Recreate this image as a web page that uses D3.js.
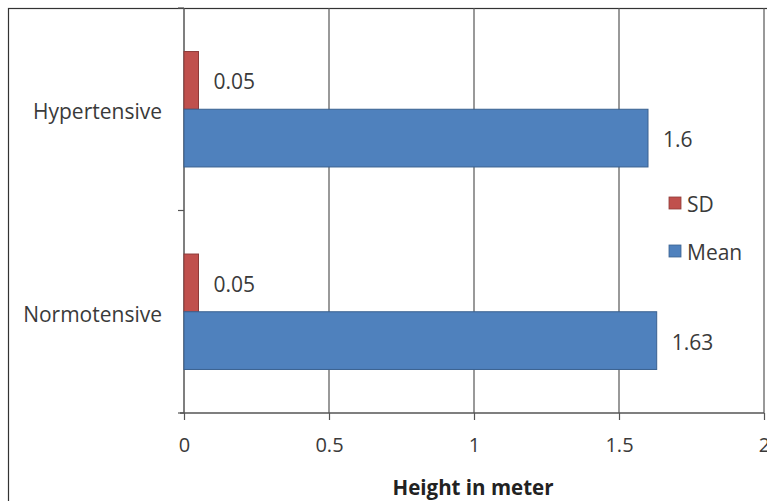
<!DOCTYPE html>
<html>
<head>
<meta charset="utf-8">
<script src="https://cdn.jsdelivr.net/npm/d3@7"></script>
<style>
  html, body { margin: 0; padding: 0; background: #fff; }
  svg { display: block; font-family: "Open Sans", "Liberation Sans", sans-serif; }
</style>
</head>
<body>
<svg id="chart" width="767" height="501"></svg>
<script>
// Height in meters by group
const categories = ["Hypertensive", "Normotensive"];
const seriesNames = ["SD", "Mean"];
const sdValues = [0.05, 0.05];
const meanValues = [1.6, 1.63];
const xTicks = [0, 0.5, 1, 1.5, 2];
const xTickLabels = ["0", "0.5", "1", "1.5", "2"];
const colors = { SD: "#C0504D", Mean: "#4F81BD" };
const strokes = { SD: "#8E3A38", Mean: "#3A6190" };

const svg = d3.select("#chart");
const W = 767, H = 501;
const plot = { left: 184, right: 764, top: 8, bottom: 413 };
const textColor = "#3a3a3a";

// outer frame
svg.append("rect")
  .attr("x", 8.5).attr("y", 8.5)
  .attr("width", W + 20).attr("height", H + 20)
  .attr("fill", "none").attr("stroke", "#333").attr("stroke-width", 1.2);

const x = d3.scaleLinear().domain([0, 2]).range([plot.left, plot.right]);
const y = d3.scaleBand().domain(categories).range([plot.top, plot.bottom])
  .paddingInner(0.43).paddingOuter(0.215);
const ySub = d3.scaleBand().domain(seriesNames).range([0, y.bandwidth()]);

// vertical gridlines
svg.append("g").selectAll("line").data(xTicks.filter(d => d > 0)).join("line")
  .attr("x1", d => x(d)).attr("x2", d => x(d))
  .attr("y1", plot.top).attr("y2", plot.bottom)
  .attr("stroke", "#555").attr("stroke-width", 1.2);

// x axis
const xAxis = d3.axisBottom(x).tickValues(xTicks)
  .tickFormat((d, i) => xTickLabels[i]).tickSize(7).tickPadding(18);
const gx = svg.append("g").attr("transform", `translate(0,${plot.bottom})`).call(xAxis);
gx.select(".domain").attr("stroke", "#555").attr("stroke-width", 1.5)
  .attr("d", `M${plot.left - 4},0H${plot.right}`);
gx.selectAll(".tick line").attr("stroke", "#555").attr("stroke-width", 1.2);
gx.selectAll(".tick text").attr("font-size", 20).attr("fill", textColor)
  .attr("font-family", "Open Sans, sans-serif");

// y axis (category boundaries as ticks)
svg.append("line")
  .attr("x1", plot.left).attr("x2", plot.left)
  .attr("y1", plot.top).attr("y2", plot.bottom)
  .attr("stroke", "#555").attr("stroke-width", 1.5);
const boundaries = [plot.top, (y(categories[0]) + y.bandwidth() + y(categories[1])) / 2, plot.bottom];
svg.append("g").selectAll("line").data(boundaries).join("line")
  .attr("x1", plot.left - 6).attr("x2", plot.left)
  .attr("y1", d => d).attr("y2", d => d)
  .attr("stroke", "#555").attr("stroke-width", 1.2);

svg.append("g").selectAll("text").data(categories).join("text")
  .attr("x", plot.left - 22)
  .attr("y", d => y(d) + y.bandwidth() / 2 + 2)
  .attr("text-anchor", "end").attr("dominant-baseline", "central")
  .attr("font-size", 21).attr("fill", textColor)
  .text(d => d);

// bars
const rows = categories.map((c, i) => ({ cat: c, SD: sdValues[i], Mean: meanValues[i] }));
const fmt = v => String(v);
rows.forEach(r => {
  seriesNames.forEach(s => {
    const y0 = y(r.cat) + ySub(s);
    svg.append("rect")
      .attr("x", x(0)).attr("y", y0)
      .attr("width", x(r[s]) - x(0)).attr("height", ySub.bandwidth())
      .attr("fill", colors[s]).attr("stroke", strokes[s]).attr("stroke-width", 1);
    svg.append("text")
      .attr("x", x(r[s]) + 15)
      .attr("y", y0 + ySub.bandwidth() / 2 + 1)
      .attr("dominant-baseline", "central")
      .attr("font-size", 21).attr("fill", textColor)
      .text(fmt(r[s]));
  });
});

// legend
const legend = svg.append("g").attr("transform", "translate(669,203)");
seriesNames.forEach((s, i) => {
  const g = legend.append("g").attr("transform", `translate(0,${i * 48})`);
  g.append("rect").attr("x", 0).attr("y", -6).attr("width", 12).attr("height", 12)
    .attr("fill", colors[s]).attr("stroke", strokes[s]).attr("stroke-width", 0.8);
  g.append("text").attr("x", 18).attr("y", 1).attr("dominant-baseline", "central")
    .attr("font-size", 21).attr("fill", textColor).text(s);
});

// axis title
svg.append("text")
  .attr("x", (plot.left + plot.right) / 2 - 1).attr("y", 487)
  .attr("text-anchor", "middle").attr("dominant-baseline", "central")
  .attr("font-size", 20.5).attr("font-weight", "bold").attr("fill", "#222")
  .text("Height in meter");
</script>
</body>
</html>
